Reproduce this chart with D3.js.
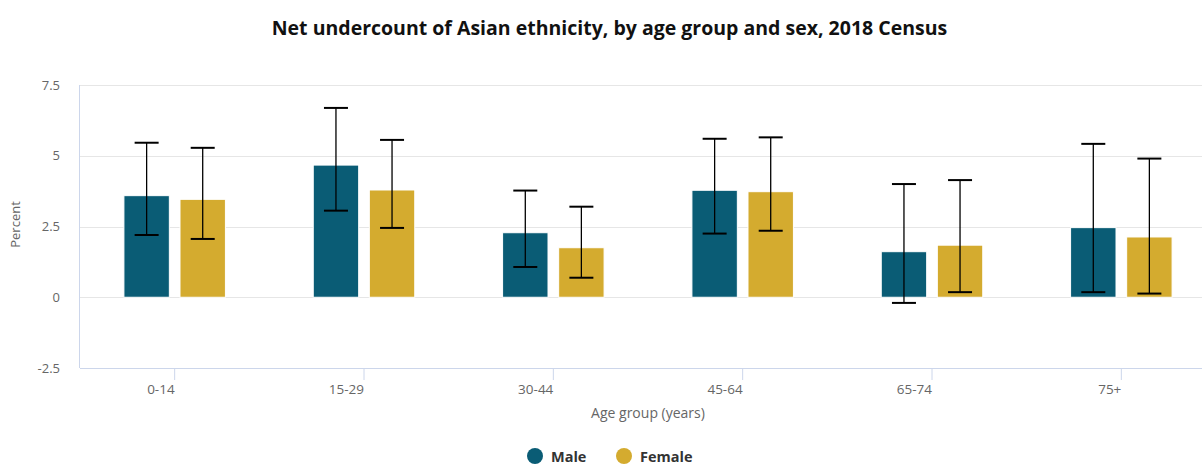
<!DOCTYPE html>
<html>
<head>
<meta charset="utf-8">
<script src="https://cdn.jsdelivr.net/npm/d3@7"></script>
<style>
  html, body { margin: 0; padding: 0; background: #fff; overflow: hidden; }
  svg { display: block; font-family: "Open Sans", Lato, sans-serif; }
</style>
</head>
<body>
<svg id="chart" width="1202" height="464"></svg>
<script>
// Age groups and series
const categories = ["0-14", "15-29", "30-44", "45-64", "65-74", "75+"];
const seriesNames = ["Male", "Female"];

// Net undercount (%) and 95% interval bounds
const maleValues = [3.59, 4.67, 2.28, 3.78, 1.61, 2.46];
const maleLow    = [2.20, 3.06, 1.07, 2.25, -0.20, 0.18];
const maleHigh   = [5.46, 6.69, 3.77, 5.60, 4.00, 5.42];

const femaleValues = [3.46, 3.79, 1.75, 3.73, 1.84, 2.13];
const femaleLow    = [2.06, 2.45, 0.69, 2.35, 0.18, 0.13];
const femaleHigh   = [5.28, 5.56, 3.20, 5.65, 4.14, 4.90];

const yTicks = [-2.5, 0, 2.5, 5, 7.5];
const yTickLabels = ["-2.5", "0", "2.5", "5", "7.5"];

const colors = { Male: "#0a5c75", Female: "#d4ab2f" };
const fontFamily = "'Open Sans', Lato, sans-serif";

const rows = categories.map((c, i) => ({
  category: c,
  values: [
    { series: "Male", value: maleValues[i], low: maleLow[i], high: maleHigh[i] },
    { series: "Female", value: femaleValues[i], low: femaleLow[i], high: femaleHigh[i] }
  ]
}));

const chartWidth = 1219;
const plot = { left: 80, right: 1216, top: 85, bottom: 368 };

const svg = d3.select("#chart");

const x = d3.scaleBand().domain(categories).range([plot.left, plot.right]).padding(0);
const groupWidth = 101.5;
const xs = d3.scaleBand().domain(seriesNames)
  .range([-groupWidth / 2, groupWidth / 2]).paddingInner(0.19).paddingOuter(0);
const y = d3.scaleLinear().domain([-2.5, 7.5]).range([plot.bottom, plot.top]);

// Title
svg.append("text")
  .attr("x", chartWidth / 2).attr("y", 35)
  .attr("text-anchor", "middle")
  .attr("font-size", 19.5).attr("font-weight", 700).attr("fill", "#111")
  .text("Net undercount of Asian ethnicity, by age group and sex, 2018 Census");

// Horizontal gridlines
svg.append("g").selectAll("line")
  .data(yTicks.filter(t => t !== -2.5))
  .join("line")
  .attr("x1", plot.left).attr("x2", plot.right)
  .attr("y1", d => Math.round(y(d)) + 0.5).attr("y2", d => Math.round(y(d)) + 0.5)
  .attr("stroke", "#e6e6e6").attr("stroke-width", 1);

// Y axis labels
const yAxis = d3.axisLeft(y).tickValues(yTicks)
  .tickFormat((d, i) => yTickLabels[i]).tickSize(0).tickPadding(0);
const yG = svg.append("g").attr("transform", `translate(${plot.left - 20},0)`).call(yAxis);
yG.select(".domain").remove();
yG.selectAll("text").attr("font-size", 13).attr("fill", "#666")
  .attr("font-family", fontFamily);

// Y axis title
svg.append("text")
  .attr("transform", `translate(20,${(plot.top + plot.bottom) / 2 - 2}) rotate(-90)`)
  .attr("text-anchor", "middle")
  .attr("font-size", 13).attr("fill", "#666")
  .text("Percent");

// Left axis line
svg.append("line")
  .attr("x1", plot.left - 0.5).attr("x2", plot.left - 0.5)
  .attr("y1", plot.top).attr("y2", plot.bottom)
  .attr("stroke", "#ccd6eb");

// Bars
const groups = svg.append("g").selectAll("g")
  .data(rows).join("g")
  .attr("transform", d => `translate(${x(d.category) + x.bandwidth() / 2},0)`);

groups.selectAll("rect")
  .data(d => d.values).join("rect")
  .attr("x", d => xs(d.series))
  .attr("width", xs.bandwidth())
  .attr("y", d => y(Math.max(0, d.value)))
  .attr("height", d => Math.abs(y(d.value) - y(0)))
  .attr("fill", d => colors[d.series])
  .attr("stroke", "#fff").attr("stroke-width", 1);

// Error bars
const whisker = 24;
const err = groups.selectAll("g.err")
  .data(d => d.values).join("g").attr("class", "err")
  .attr("transform", d => `translate(${xs(d.series) + xs.bandwidth() / 2},0)`);
err.append("line")
  .attr("x1", 0).attr("x2", 0)
  .attr("y1", d => y(d.high)).attr("y2", d => y(d.low))
  .attr("stroke", "#000").attr("stroke-width", 1.3);
err.append("line")
  .attr("x1", -whisker / 2).attr("x2", whisker / 2)
  .attr("y1", d => y(d.high)).attr("y2", d => y(d.high))
  .attr("stroke", "#000").attr("stroke-width", 2);
err.append("line")
  .attr("x1", -whisker / 2).attr("x2", whisker / 2)
  .attr("y1", d => y(d.low)).attr("y2", d => y(d.low))
  .attr("stroke", "#000").attr("stroke-width", 2);

// X axis
const xAxis = d3.axisBottom(x).tickSize(12).tickPadding(3);
const xG = svg.append("g").attr("transform", `translate(0,${plot.bottom})`).call(xAxis);
xG.select(".domain").attr("stroke", "#ccd6eb").attr("d", `M${plot.left},0.5H${plot.right}`);
xG.selectAll(".tick line").attr("stroke", "#ccd6eb");
xG.selectAll(".tick text")
  .attr("text-anchor", "end")
  .attr("x", 0).attr("y", 16.5).attr("dy", "0.71em")
  .attr("font-size", 13.5).attr("fill", "#666")
  .attr("font-family", fontFamily);

// X axis title
svg.append("text")
  .attr("x", (plot.left + plot.right) / 2).attr("y", 418)
  .attr("text-anchor", "middle")
  .attr("font-size", 14).attr("fill", "#666")
  .text("Age group (years)");

// Legend
const legendItems = [
  { name: "Male", cx: 535 },
  { name: "Female", cx: 624 }
];
const lg = svg.append("g").selectAll("g").data(legendItems).join("g")
  .attr("transform", d => `translate(${d.cx},456)`);
lg.append("circle").attr("r", 8).attr("fill", d => colors[d.name]);
lg.append("text")
  .attr("x", 16).attr("y", 5.5)
  .attr("font-size", 14.5).attr("font-weight", 700).attr("fill", "#333")
  .text(d => d.name);
</script>
</body>
</html>
